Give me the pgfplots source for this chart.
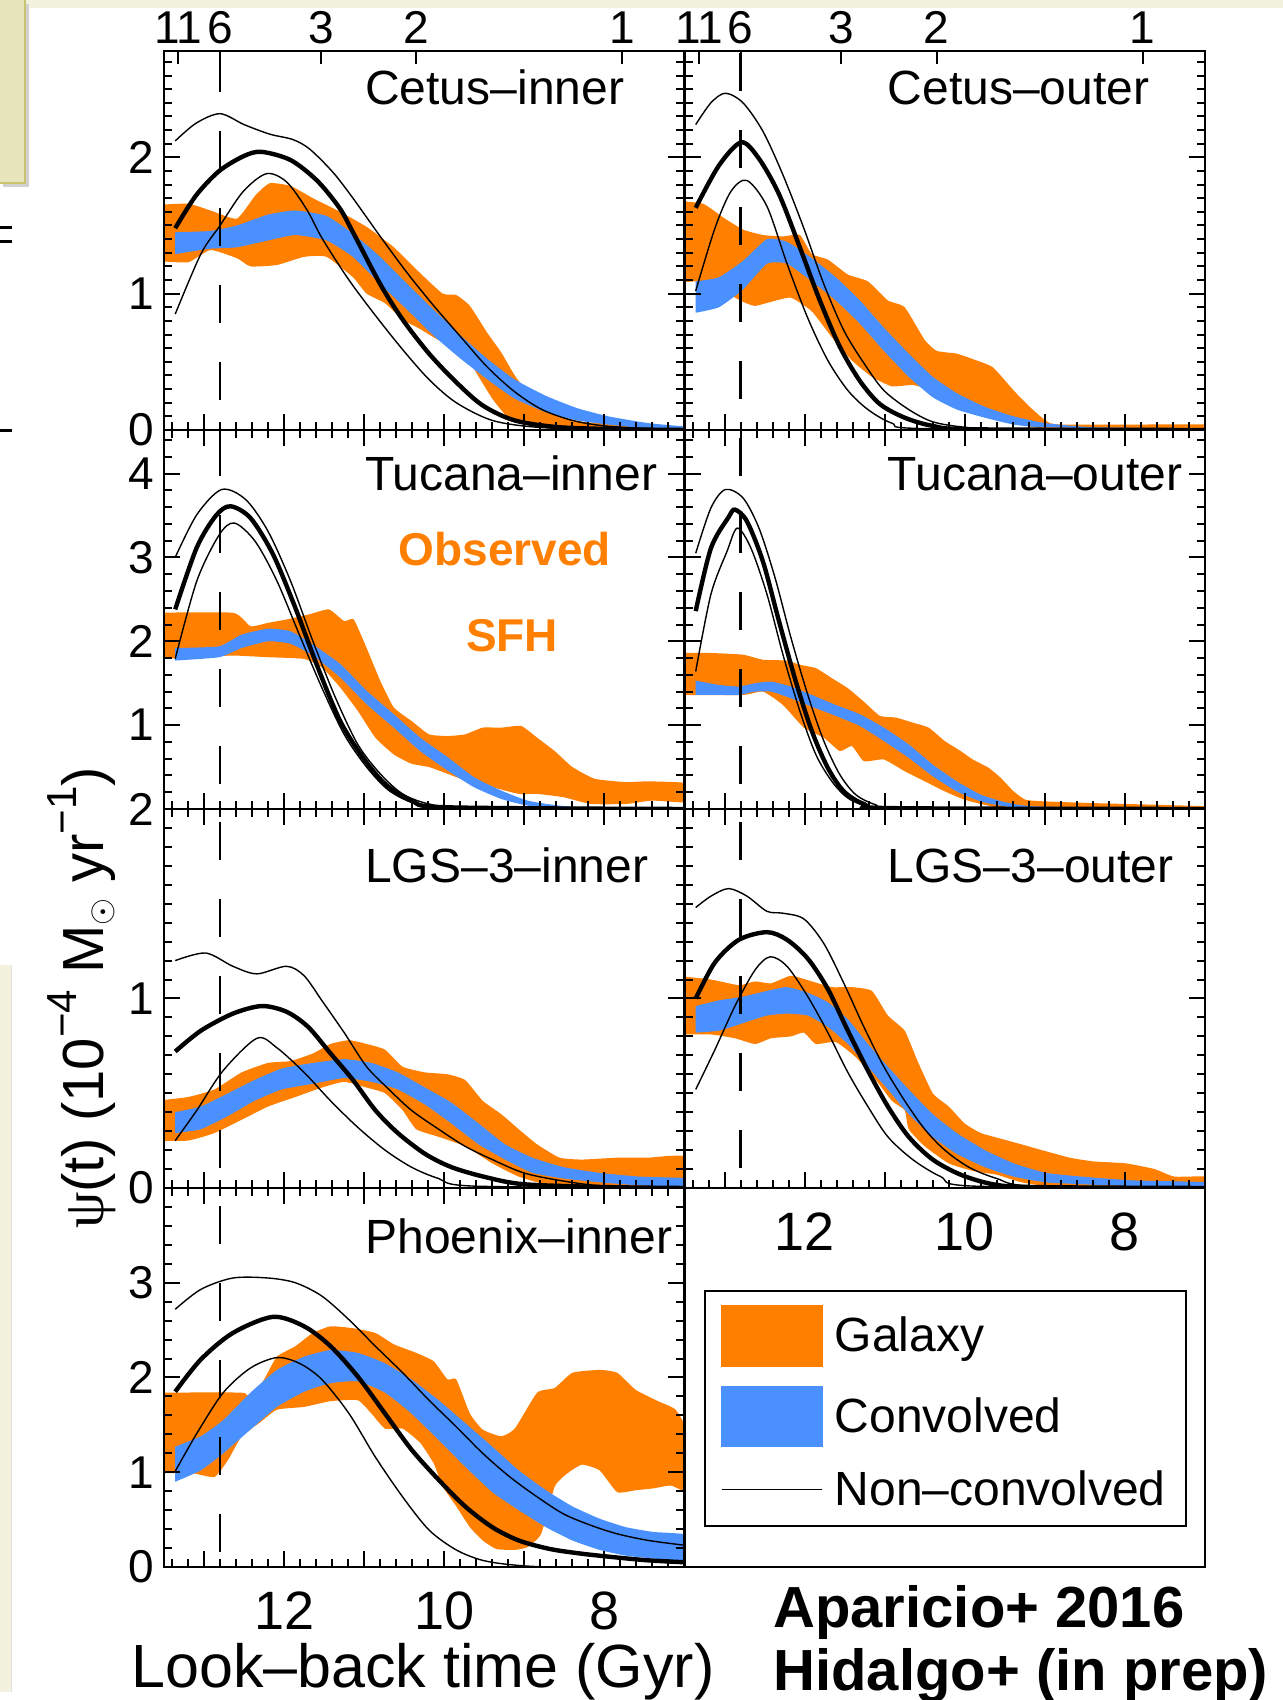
\documentclass[border=0pt]{standalone}
\usepackage{fontspec}
\setmainfont{Liberation Sans}
\newfontfamily\serifpsi{Liberation Serif}
\usepackage{pgfplots}
\pgfplotsset{compat=1.18}

\definecolor{orng}{RGB}{255,127,0}
\definecolor{blu}{RGB}{74,144,255}
\definecolor{bandbg}{RGB}{243,242,223}
\definecolor{boxfill}{RGB}{230,229,188}
\definecolor{boxedge}{RGB}{200,196,110}

\newcommand{\fTick}{\fontsize{23}{27}\selectfont}
\newcommand{\fBig}{\fontsize{27}{31}\selectfont}
\newcommand{\fLab}{\fontsize{29}{33}\selectfont}
\newcommand{\fXlab}{\fontsize{30.5}{34}\selectfont}
\newcommand{\fPan}{\fontsize{24}{28}\selectfont}
\newcommand{\fLeg}{\fontsize{24}{28}\selectfont}
\newcommand{\sups}[1]{\raisebox{0.45em}{\fontsize{21}{21}\selectfont #1}}

\newcommand{\band}[2]{\addplot[fill=#1, draw=none, smooth, tension=0.3, forget plot] coordinates {#2};}
\newcommand{\thinl}[1]{\addplot[black, line width=0.7pt, smooth, tension=0.5, forget plot] coordinates {#1};}
\newcommand{\thickl}[1]{\addplot[black, line width=2.2pt, smooth, tension=0.5, forget plot] coordinates {#1};}
\newcommand{\zline}[2]{\addplot[black, line width=1.2pt, dash pattern=on 19pt off 19.5pt, dash phase=#2, forget plot] coordinates {(12.8,#1) (12.8,0)};}

\tikzset{plabel/.style={anchor=base west, font=\fPan, inner sep=0pt}}
\pgfplotsset{
  panel/.style={scale only axis, width=260.25pt, height=189.5pt, anchor=south west,
    xmin=7, xmax=13.5, x dir=reverse, xtick={7,8,9,10,11,12,13}, xticklabels={},
    minor xtick={7.2,7.4,...,13.45}, ymin=0,
    tick align=inside, major tick length=8pt, minor tick length=4pt,
    axis line style={line width=1.4pt}, tick style={black, line width=1pt},
    axis on top,
    xticklabel style={font=\fBig, yshift=-9pt},
    yticklabel style={font=\fTick, inner sep=0pt, xshift=-5pt}},
  rowA/.style={ymax=2.78, ytick={0,1,2}, minor ytick={0.1,0.2,...,2.75}},
  rowB/.style={ymax=4.52, ytick={0,1,2,3,4}, minor ytick={0.2,0.4,...,4.45}},
  rowC/.style={ymax=2, ytick={0,1,2}, minor ytick={0.1,0.2,...,1.95}},
  rowD/.style={ymax=4, ytick={0,1,2,3,4}, minor ytick={0.2,0.4,...,3.9}},
  zax/.style={scale only axis, width=260.25pt, height=189.5pt, anchor=south west,
    xmin=7, xmax=13.5, x dir=reverse, ymin=0, ymax=1,
    axis x line*=top, hide y axis, xtick={13.32,12.8,11.54,10.35,7.78},
    xticklabels={11,6,3,2,1}, tick align=inside, major tick length=6.5pt,
    tick style={black, line width=1pt}, x axis line style={-, line width=1.4pt},
    xticklabel style={font=\fTick, inner sep=0pt, yshift=3.5pt}}
}

\begin{document}
\begin{tikzpicture}
\path[use as bounding box] (0,0) rectangle (641.5pt,850pt);
\fill[white] (0,0) rectangle (641.5pt,850pt);
% slide artefacts
\fill[bandbg] (0,846pt) rectangle (641.5pt,850pt);
\fill[black!18] (1.5pt,756.5pt) rectangle (14.5pt,848pt);
\filldraw[fill=boxfill, draw=boxedge, line width=0.6pt] (-1pt,758.5pt) rectangle (12.5pt,851pt);
\fill[black] (0,735.5pt) rectangle (6pt,737pt);
\fill[black] (0,728.5pt) rectangle (6pt,730pt);
\fill[black] (0,634pt) rectangle (6pt,635.5pt);
\fill[bandbg] (0,4pt) rectangle (5.5pt,367.5pt);
\draw[black!12, line width=0.5pt] (5.5pt,4pt) -- (5.5pt,367.5pt);

%================ Cetus-inner
\begin{axis}[panel, rowA, at={(82pt,635pt)}, xtick pos=left, yticklabels={0,1,2}]
\band{orng}{(13.6,1.65) (13.2,1.66) (12.92,1.61) (12.59,1.55) (12.36,1.72) (12.18,1.81) (11.92,1.79) (11.64,1.70) (11.30,1.60) (10.97,1.49) (10.63,1.34) (10.30,1.15) (10.02,1.00) (9.85,0.99) (9.68,0.91) (9.46,0.71) (9.29,0.57) (9.12,0.40) (8.96,0.28) (8.68,0.13) (8.28,0.06) (7.73,0.04) (6.9,0.02) (6.9,-0.01) (8.28,0.01) (8.84,0.04) (9.18,0.08) (9.40,0.23) (9.63,0.45) (9.79,0.62) (10.07,0.66) (10.30,0.74) (10.52,0.81) (10.74,0.93) (10.97,1.00) (11.14,1.12) (11.47,1.27) (11.75,1.27) (12.09,1.21) (12.42,1.20) (12.59,1.26) (12.92,1.32) (13.2,1.23) (13.6,1.24)}
\band{blu}{(13.36,1.45) (12.92,1.46) (12.59,1.50) (12.2,1.58) (11.86,1.61) (11.47,1.57) (11.14,1.44) (10.80,1.27) (10.46,1.07) (10.13,0.88) (9.79,0.69) (9.46,0.52) (9.12,0.37) (8.73,0.25) (8.34,0.16) (7.95,0.10) (7.45,0.05) (6.9,0.02) (6.9,0.0) (7.45,0.01) (7.95,0.04) (8.34,0.07) (8.73,0.13) (9.12,0.23) (9.46,0.37) (9.79,0.52) (10.13,0.69) (10.46,0.88) (10.80,1.07) (11.14,1.27) (11.47,1.39) (11.86,1.43) (12.2,1.39) (12.59,1.34) (12.92,1.33) (13.36,1.29)}
\thinl{(13.36,2.12) (13.1,2.25) (12.80,2.32) (12.5,2.24) (12.18,2.17) (11.89,2.13) (11.68,2.06) (11.39,1.89) (11.14,1.70) (10.80,1.42) (10.46,1.15) (10.13,0.91) (9.79,0.68) (9.46,0.46) (9.12,0.28) (8.78,0.15) (8.40,0.07) (8.0,0.03) (7.45,0.01) (7.0,0.005)}
\thinl{(13.36,0.85) (13.04,1.29) (12.8,1.50) (12.51,1.75) (12.22,1.88) (11.97,1.82) (11.72,1.62) (11.52,1.40) (11.19,1.10) (10.86,0.84) (10.52,0.59) (10.19,0.37) (9.85,0.20) (9.40,0.07) (8.84,0.02) (8.0,0.005) (7.0,0)}
\thickl{(13.36,1.48) (13.1,1.72) (12.81,1.90) (12.5,2.01) (12.28,2.04) (11.92,1.98) (11.59,1.83) (11.31,1.63) (11.14,1.45) (10.80,1.07) (10.52,0.81) (10.19,0.56) (9.85,0.35) (9.52,0.18) (9.12,0.07) (8.56,0.02) (7.73,0.005) (7.0,0.0)}
\zline{2.78}{37pt}
\node[plabel] at (axis description cs:0.386,0.860) {Cetus–inner};
\end{axis}
\begin{axis}[zax, at={(82pt,635pt)}]
\end{axis}

%================ Cetus-outer
\begin{axis}[panel, rowA, at={(342.25pt,635pt)}, xtick pos=left, yticklabels={}]
\band{orng}{(13.6,1.68) (13.27,1.66) (13.02,1.56) (12.77,1.47) (12.52,1.43) (12.27,1.42) (12.06,1.43) (11.91,1.29) (11.71,1.25) (11.46,1.14) (11.21,1.09) (10.96,0.95) (10.75,0.90) (10.50,0.66) (10.35,0.58) (10.10,0.56) (9.90,0.52) (9.65,0.46) (9.39,0.29) (9.19,0.17) (8.99,0.07) (8.79,0.04) (6.9,0.04) (6.9,0.01) (8.79,0.01) (9.14,0.02) (9.49,0.06) (9.80,0.13) (10.10,0.22) (10.40,0.29) (10.65,0.33) (10.91,0.32) (11.16,0.39) (11.41,0.51) (11.66,0.68) (11.91,0.87) (12.17,0.97) (12.42,0.94) (12.62,0.91) (12.77,0.94) (13.02,1.02) (13.27,1.09) (13.6,1.08)}
\band{blu}{(13.36,1.09) (13.07,1.12) (12.77,1.24) (12.47,1.40) (12.22,1.38) (11.91,1.26) (11.61,1.12) (11.31,0.95) (11.01,0.75) (10.70,0.56) (10.40,0.39) (10.10,0.27) (9.75,0.17) (9.39,0.10) (8.99,0.05) (8.39,0.02) (6.9,0.01) (6.9,0.0) (8.99,0.02) (9.39,0.04) (9.75,0.09) (10.10,0.15) (10.40,0.24) (10.70,0.39) (11.01,0.58) (11.31,0.78) (11.61,0.95) (11.91,1.09) (12.22,1.22) (12.47,1.22) (12.77,1.03) (13.07,0.90) (13.36,0.86)}
\thinl{(13.36,2.24) (13.17,2.40) (12.99,2.47) (12.77,2.40) (12.52,2.19) (12.27,1.87) (12.01,1.48) (11.76,1.07) (11.51,0.73) (11.26,0.49) (11.01,0.29) (10.70,0.15) (10.40,0.06) (10.0,0.02) (9.39,0.0) (7.0,0)}
\thinl{(13.36,1.02) (13.12,1.48) (12.92,1.75) (12.72,1.83) (12.47,1.64) (12.22,1.22) (11.96,0.82) (11.71,0.51) (11.46,0.29) (11.21,0.15) (10.91,0.05) (10.50,0.01) (7.0,0)}
\thickl{(13.36,1.63) (13.07,1.94) (12.79,2.11) (12.57,1.99) (12.32,1.73) (12.06,1.34) (11.81,0.95) (11.56,0.61) (11.31,0.36) (11.06,0.19) (10.75,0.09) (10.40,0.03) (9.9,0.005) (7.0,0)}
\zline{2.78}{37.5pt}
\node[plabel] at (axis description cs:0.39,0.860) {Cetus–outer};
\end{axis}
\begin{axis}[zax, at={(342.25pt,635pt)}]
\end{axis}

%================ Tucana-inner
\begin{axis}[panel, rowB, at={(82pt,445.5pt)}, yticklabels={{},1,2,3,4}]
\band{orng}{(13.6,2.34) (12.64,2.34) (12.42,2.18) (12.2,2.22) (11.97,2.26) (11.69,2.32) (11.44,2.38) (11.25,2.24) (11.13,2.26) (10.97,1.92) (10.80,1.53) (10.63,1.21) (10.41,1.05) (10.19,0.89) (9.96,0.87) (9.74,0.89) (9.52,0.97) (9.29,0.97) (9.04,0.99) (8.84,0.85) (8.62,0.69) (8.40,0.50) (8.12,0.36) (7.73,0.32) (7.45,0.33) (6.9,0.30) (6.9,0.08) (7.40,0.10) (7.73,0.06) (8.17,0.06) (8.51,0.14) (8.84,0.18) (9.07,0.18) (9.40,0.26) (9.68,0.32) (9.96,0.42) (10.19,0.50) (10.41,0.54) (10.63,0.65) (10.86,0.85) (11.08,1.17) (11.30,1.45) (11.53,1.69) (11.75,1.79) (12.2,1.81) (12.64,1.83) (13.04,1.81) (13.6,1.79)}
\band{blu}{(13.36,1.92) (12.81,1.94) (12.53,2.08) (12.2,2.15) (11.92,2.12) (11.64,1.96) (11.30,1.73) (10.97,1.41) (10.63,1.13) (10.30,0.85) (9.96,0.62) (9.63,0.38) (9.29,0.22) (8.96,0.10) (8.56,0.04) (8.0,0.01) (6.9,0) (6.9,-0.01) (8.56,0.01) (8.96,0.04) (9.29,0.12) (9.63,0.26) (9.96,0.46) (10.30,0.69) (10.63,0.97) (10.97,1.25) (11.30,1.57) (11.64,1.83) (11.92,1.97) (12.2,2.0) (12.53,1.92) (12.81,1.81) (13.36,1.77)}
\thinl{(13.36,3.0) (13.09,3.51) (12.78,3.81) (12.48,3.69) (12.2,3.31) (11.92,2.72) (11.64,2.0) (11.36,1.33) (11.08,0.77) (10.80,0.42) (10.52,0.18) (10.19,0.06) (9.68,0.01) (7.0,0)}
\thinl{(13.36,1.79) (13.09,2.72) (12.81,3.27) (12.62,3.41) (12.36,3.19) (12.09,2.72) (11.81,2.08) (11.53,1.45) (11.25,0.89) (10.97,0.50) (10.69,0.22) (10.35,0.06) (9.9,0.01) (7.0,0)}
\thickl{(13.36,2.38) (13.09,3.12) (12.85,3.50) (12.67,3.61) (12.42,3.47) (12.14,3.04) (11.86,2.40) (11.58,1.69) (11.30,1.05) (11.02,0.62) (10.74,0.30) (10.41,0.10) (9.96,0.02) (7.0,0)}
\zline{4.52}{34.5pt}
\node[plabel] at (axis description cs:0.386,0.840) {Tucana–inner};
\end{axis}

%================ Tucana-outer
\begin{axis}[panel, rowB, at={(342.25pt,445.5pt)}, yticklabels={}]
\band{orng}{(13.6,1.86) (13.17,1.86) (12.77,1.84) (12.52,1.78) (12.22,1.77) (12.06,1.72) (11.86,1.68) (11.66,1.56) (11.46,1.44) (11.26,1.28) (11.06,1.11) (10.86,1.09) (10.65,1.03) (10.45,0.97) (10.25,0.81) (10.05,0.69) (9.90,0.59) (9.70,0.49) (9.55,0.37) (9.39,0.21) (9.24,0.11) (8.99,0.09) (8.39,0.07) (6.9,0.03) (6.9,-0.01) (9.4,0.01) (9.75,0.05) (10.0,0.11) (10.25,0.21) (10.50,0.33) (10.75,0.45) (11.01,0.59) (11.26,0.57) (11.41,0.75) (11.56,0.69) (11.76,0.85) (12.01,0.97) (12.27,1.24) (12.52,1.40) (12.77,1.36) (13.6,1.36)}
\band{blu}{(13.36,1.53) (13.07,1.48) (12.82,1.46) (12.62,1.50) (12.42,1.52) (12.17,1.46) (11.91,1.36) (11.61,1.24) (11.31,1.13) (11.01,0.97) (10.70,0.77) (10.40,0.53) (10.10,0.33) (9.80,0.17) (9.49,0.08) (9.09,0.03) (6.9,0.005) (6.9,-0.01) (9.09,0.0) (9.49,0.03) (9.80,0.09) (10.10,0.21) (10.40,0.39) (10.70,0.61) (11.01,0.81) (11.31,0.99) (11.61,1.11) (11.91,1.22) (12.17,1.32) (12.42,1.40) (12.62,1.40) (12.82,1.36) (13.07,1.36) (13.36,1.36)}
\thinl{(13.36,3.05) (13.17,3.59) (12.99,3.81) (12.77,3.71) (12.57,3.35) (12.37,2.76) (12.17,2.04) (11.96,1.36) (11.76,0.81) (11.56,0.41) (11.36,0.17) (11.11,0.05) (10.8,0.01) (7.0,0)}
\thinl{(13.36,1.64) (13.17,2.56) (12.97,3.07) (12.84,3.35) (12.67,3.11) (12.47,2.56) (12.27,1.84) (12.06,1.17) (11.86,0.65) (11.66,0.33) (11.46,0.13) (11.21,0.03) (10.9,0.0) (7.0,0)}
\thickl{(13.36,2.36) (13.17,3.11) (12.95,3.48) (12.87,3.57) (12.72,3.43) (12.52,2.95) (12.32,2.24) (12.11,1.52) (11.91,0.93) (11.71,0.49) (11.51,0.21) (11.26,0.06) (10.9,0.01) (7.0,0)}
\zline{4.52}{34.5pt}
\node[plabel] at (axis description cs:0.39,0.840) {Tucana–outer};
\end{axis}

%================ LGS-3-inner
\begin{axis}[panel, rowC, at={(82pt,256pt)}, yticklabels={0,1,2}]
\band{orng}{(13.6,0.46) (13.2,0.48) (12.87,0.52) (12.53,0.61) (12.2,0.66) (11.92,0.67) (11.64,0.71) (11.42,0.76) (11.19,0.78) (10.97,0.76) (10.74,0.73) (10.52,0.64) (10.24,0.61) (9.96,0.60) (9.74,0.57) (9.52,0.46) (9.29,0.39) (9.07,0.31) (8.84,0.23) (8.56,0.16) (8.28,0.15) (7.84,0.16) (7.45,0.16) (7.17,0.17) (6.9,0.16) (6.9,0.01) (8.28,0.015) (8.73,0.02) (9.07,0.06) (9.40,0.13) (9.74,0.22) (10.07,0.27) (10.35,0.31) (10.52,0.41) (10.74,0.50) (10.97,0.53) (11.25,0.56) (11.53,0.53) (11.86,0.48) (12.2,0.43) (12.53,0.36) (12.87,0.29) (13.2,0.25) (13.6,0.25)}
\band{blu}{(13.36,0.40) (13.04,0.43) (12.70,0.50) (12.37,0.57) (12.03,0.63) (11.64,0.66) (11.25,0.68) (10.91,0.66) (10.58,0.61) (10.24,0.53) (9.91,0.45) (9.57,0.34) (9.24,0.23) (8.90,0.16) (8.51,0.11) (8.06,0.08) (7.56,0.06) (6.9,0.05) (6.9,0.005) (7.56,0.014) (8.06,0.03) (8.51,0.05) (8.90,0.08) (9.24,0.15) (9.57,0.23) (9.91,0.34) (10.24,0.44) (10.58,0.52) (10.91,0.56) (11.25,0.58) (11.64,0.55) (12.03,0.52) (12.37,0.46) (12.70,0.38) (13.04,0.31) (13.36,0.29)}
\thinl{(13.36,1.20) (12.98,1.24) (12.64,1.17) (12.34,1.13) (11.97,1.17) (11.75,1.12) (11.53,0.99) (11.25,0.82) (10.97,0.64) (10.69,0.52) (10.41,0.41) (10.07,0.31) (9.74,0.22) (9.40,0.15) (9.01,0.08) (8.56,0.04) (8.0,0.01) (7.0,0)}
\thinl{(13.36,0.25) (13.09,0.41) (12.76,0.62) (12.34,0.79) (12.09,0.74) (11.75,0.61) (11.42,0.46) (11.08,0.32) (10.74,0.20) (10.41,0.11) (10.07,0.05) (9.63,0.01) (7.0,0)}
\thickl{(13.36,0.72) (13.04,0.83) (12.64,0.92) (12.28,0.96) (11.97,0.93) (11.70,0.85) (11.42,0.71) (11.14,0.57) (10.86,0.41) (10.58,0.29) (10.24,0.18) (9.91,0.11) (9.51,0.06) (9.01,0.02) (8.0,0.005) (7.0,0)}
\zline{2}{32pt}
\node[plabel] at (axis description cs:0.386,0.805) {LGS–3–inner};
\end{axis}

%================ LGS-3-outer
\begin{axis}[panel, rowC, at={(342.25pt,256pt)}, yticklabels={}, xticklabels={{},8,{},10,{},12,{}}]
\band{orng}{(13.6,1.12) (13.17,1.10) (12.82,1.07) (12.62,1.09) (12.42,1.08) (12.17,1.12) (11.91,1.09) (11.66,1.06) (11.41,1.06) (11.16,1.04) (10.96,0.91) (10.75,0.83) (10.60,0.68) (10.40,0.50) (10.20,0.43) (10.0,0.34) (9.80,0.29) (9.55,0.26) (9.29,0.23) (9.04,0.20) (8.69,0.16) (8.39,0.14) (7.99,0.13) (7.63,0.10) (7.38,0.06) (6.9,0.06) (6.9,-0.01) (8.89,0.01) (9.29,0.03) (9.60,0.07) (9.90,0.09) (10.20,0.13) (10.50,0.22) (10.70,0.31) (10.75,0.41) (10.91,0.46) (11.11,0.57) (11.36,0.69) (11.61,0.77) (11.86,0.76) (12.01,0.82) (12.17,0.80) (12.42,0.79) (12.62,0.76) (12.87,0.79) (13.17,0.81) (13.6,0.81)}
\band{blu}{(13.36,0.96) (13.07,0.99) (12.77,1.01) (12.47,1.04) (12.22,1.06) (11.96,1.03) (11.71,0.98) (11.46,0.89) (11.21,0.76) (10.96,0.64) (10.70,0.52) (10.40,0.39) (10.10,0.29) (9.75,0.20) (9.39,0.13) (8.99,0.08) (8.54,0.06) (7.89,0.04) (6.9,0.03) (6.9,0.005) (7.89,0.01) (8.54,0.02) (8.99,0.03) (9.39,0.06) (9.75,0.11) (10.10,0.18) (10.40,0.27) (10.70,0.39) (10.96,0.52) (11.21,0.64) (11.46,0.76) (11.71,0.85) (11.96,0.91) (12.22,0.92) (12.47,0.91) (12.77,0.87) (13.07,0.83) (13.36,0.82)}
\thinl{(13.36,1.48) (13.17,1.54) (12.95,1.58) (12.72,1.54) (12.47,1.46) (12.27,1.45) (12.01,1.42) (11.76,1.29) (11.51,1.08) (11.26,0.85) (11.01,0.64) (10.75,0.46) (10.50,0.31) (10.25,0.20) (9.95,0.11) (9.60,0.05) (9.15,0.01) (7.0,0)}
\thinl{(13.36,0.52) (13.12,0.73) (12.87,0.96) (12.62,1.15) (12.43,1.22) (12.22,1.17) (11.96,1.01) (11.71,0.82) (11.46,0.61) (11.21,0.43) (10.96,0.27) (10.65,0.15) (10.30,0.06) (9.90,0.01) (7.0,0)}
\thickl{(13.36,1.0) (13.12,1.19) (12.82,1.31) (12.47,1.35) (12.22,1.31) (11.96,1.21) (11.71,1.05) (11.46,0.83) (11.21,0.62) (10.96,0.43) (10.70,0.27) (10.40,0.15) (10.05,0.07) (9.65,0.02) (9.15,0.005) (7.0,0)}
\zline{2}{32pt}
\node[plabel] at (axis description cs:0.39,0.805) {LGS–3–outer};
\end{axis}

%================ Phoenix-inner
\begin{axis}[panel, rowD, at={(82pt,66.5pt)}, yticklabels={0,1,2,3,{}}, xticklabels={{},8,{},10,{},12,{}}]
\band{orng}{(13.6,1.84) (12.53,1.84) (12.42,1.78) (12.25,1.98) (12.09,2.22) (11.86,2.33) (11.64,2.47) (11.42,2.54) (11.14,2.52) (10.86,2.47) (10.63,2.35) (10.35,2.26) (10.13,2.17) (9.96,1.98) (9.85,1.98) (9.68,1.62) (9.52,1.45) (9.29,1.38) (9.12,1.46) (8.84,1.84) (8.62,1.89) (8.40,2.05) (8.06,2.08) (7.84,2.05) (7.61,1.87) (7.33,1.75) (7.11,1.66) (6.95,1.40) (6.95,0.81) (7.17,0.86) (7.39,0.83) (7.61,0.81) (7.84,0.79) (8.06,1.02) (8.28,1.08) (8.46,0.99) (8.62,0.85) (8.79,0.35) (8.96,0.21) (9.12,0.18) (9.35,0.19) (9.52,0.28) (9.68,0.42) (9.85,0.64) (10.02,0.85) (10.13,1.09) (10.30,1.31) (10.52,1.46) (10.74,1.46) (10.91,1.62) (11.08,1.76) (11.42,1.75) (11.75,1.69) (12.09,1.66) (12.31,1.52) (12.53,1.38) (12.70,1.13) (12.87,0.95) (13.15,0.99) (13.6,0.99)}
\band{blu}{(13.36,1.27) (13.04,1.38) (12.76,1.55) (12.42,1.84) (12.09,2.08) (11.75,2.22) (11.42,2.29) (11.08,2.26) (10.74,2.15) (10.41,1.98) (10.07,1.76) (9.74,1.52) (9.40,1.27) (9.07,1.02) (8.73,0.81) (8.40,0.64) (8.06,0.51) (7.73,0.42) (7.39,0.37) (6.9,0.33) (6.9,0.05) (7.39,0.09) (7.73,0.12) (8.06,0.18) (8.40,0.28) (8.73,0.42) (9.07,0.60) (9.40,0.79) (9.74,1.06) (10.07,1.34) (10.41,1.62) (10.74,1.84) (11.08,1.96) (11.42,1.94) (11.75,1.85) (12.09,1.69) (12.42,1.45) (12.76,1.20) (13.04,1.02) (13.36,0.90)}
\thinl{(13.36,2.72) (13.04,2.93) (12.64,3.05) (12.2,3.05) (11.86,3.0) (11.53,2.86) (11.19,2.61) (10.86,2.33) (10.52,2.05) (10.19,1.76) (9.85,1.48) (9.52,1.20) (9.18,0.95) (8.84,0.74) (8.51,0.56) (8.17,0.44) (7.84,0.35) (7.45,0.28) (7.0,0.23)}
\thinl{(13.36,1.01) (13.09,1.41) (12.76,1.84) (12.42,2.10) (12.09,2.21) (11.81,2.15) (11.53,1.98) (11.19,1.62) (10.86,1.16) (10.52,0.74) (10.19,0.39) (9.85,0.18) (9.52,0.07) (9.12,0.02) (8.6,0.0) (7.0,0)}
\thickl{(13.36,1.85) (13.04,2.19) (12.64,2.47) (12.14,2.64) (11.75,2.54) (11.42,2.33) (11.08,2.01) (10.74,1.62) (10.41,1.24) (10.07,0.92) (9.74,0.64) (9.40,0.42) (9.07,0.28) (8.68,0.19) (8.28,0.14) (7.84,0.10) (7.45,0.07) (7.0,0.05)}
\zline{4}{29.5pt}
\node[plabel] at (axis description cs:0.386,0.828) {Phoenix–inner};
\end{axis}

%================ legend panel
\begin{axis}[scale only axis, width=260.25pt, height=189.5pt, anchor=south west, at={(342.25pt,66.5pt)},
  xmin=0, xmax=1, ymin=0, ymax=1, xtick=\empty, ytick=\empty, axis line style={line width=1.4pt},
  legend style={at={(0.0375,0.731)}, anchor=north west, draw=black, line width=0.9pt,
    font=\fLeg, inner xsep=8pt, inner ysep=7pt, row sep=9.5pt,
    nodes={inner sep=2pt}, cells={anchor=west},
    /tikz/every odd column/.append style={column sep=4pt}},
  legend cell align=left]
\addlegendimage{legend image code/.code={\fill[orng] (0pt,-15pt) rectangle (50pt,15pt);}}
\addlegendentry{Galaxy}
\addlegendimage{legend image code/.code={\fill[blu] (0pt,-15pt) rectangle (50pt,15pt);}}
\addlegendentry{Convolved}
\addlegendimage{legend image code/.code={\draw[black, line width=0.8pt] (0pt,0pt) -- (50pt,0pt);}}
\addlegendentry{Non–convolved}
\end{axis}

% texts
\node[anchor=base, font=\fontsize{23}{27}\selectfont\bfseries, text=orng] at (252.5pt,567pt) {Observed};
\node[anchor=base, font=\fontsize{23}{27}\selectfont\bfseries, text=orng] at (256pt,524pt) {SFH};
\node[anchor=base, font=\fLab, rotate=90] at (51.5pt,351pt)
  {{\serifpsi ψ}(t) (10\sups{−4} M\raisebox{-0.15em}{\fontsize{17}{17}\selectfont$\odot$} yr\sups{−1})};
\node[anchor=base, font=\fXlab] at (211.5pt,6pt) {Look–back time (Gyr)};
\node[anchor=base west, inner sep=0pt, font=\fLab\bfseries] at (386.5pt,36pt) {Aparicio+ 2016};
\node[anchor=base west, inner sep=0pt, font=\fLab\bfseries] at (386.5pt,5pt) {Hidalgo+ (in prep)};
\end{tikzpicture}
\end{document}
